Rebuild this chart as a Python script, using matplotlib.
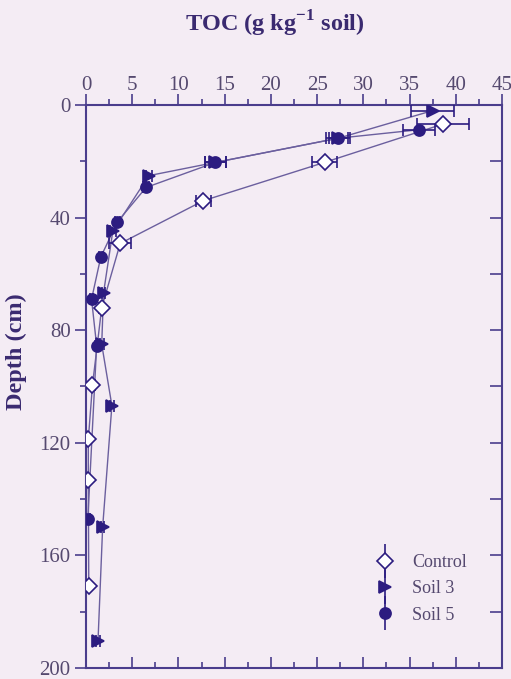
import matplotlib
matplotlib.use("Agg")
from matplotlib import pyplot as plt
from matplotlib.lines import Line2D
from matplotlib.legend_handler import HandlerTuple
from matplotlib.ticker import MultipleLocator

# TOC (g/kg soil) against depth (cm)
control_toc = [38.6, 25.8, 12.7, 3.7, 1.7, 0.7, 0.25, 0.25, 0.3]
control_depth = [6.8, 20.4, 34.0, 49.2, 72.0, 99.5, 118.8, 133.3, 171.0]
control_err = [2.8, 1.4, 0.8, 1.2, 0.3, 0.3, 0.2, 0.2, 0.2]

soil3_toc = [37.5, 27.3, 14.0, 6.8, 2.9, 1.9, 1.7, 2.8, 1.8, 1.3]
soil3_depth = [2.0, 11.8, 20.4, 25.1, 44.8, 66.7, 85.0, 106.8, 150.0, 190.3]
soil3_err = [2.3, 1.3, 1.1, 0.3, 0.3, 0.2, 0.2, 0.2, 0.2, 0.2]

soil5_toc = [36.0, 27.3, 14.0, 6.5, 3.4, 1.6, 0.6, 1.15, 0.2]
soil5_depth = [8.8, 11.8, 20.4, 29.3, 41.5, 54.0, 69.0, 85.5, 147.0]
soil5_err = [1.7, 1.0, 1.1, 0.3, 0.3, 0.2, 0.2, 0.2, 0.2]

labels = ["Control", "Soil 3", "Soil 5"]

bg = "#f4ecf4"
navy = "#2c1c80"
line_col = "#6b5f9e"
axis_col = "#4a3d8c"
text_col = "#55496f"

plt.rcParams["font.family"] = ["Liberation Serif", "DejaVu Serif"]

fig = plt.figure(figsize=(5.11, 6.79), dpi=100, facecolor=bg)
ax = fig.add_axes([0.1683, 0.0162, 0.8141, 0.8292])
ax.set_facecolor(bg)

series = [
    (control_toc, control_depth, control_err, "D", "white", 8.5),
    (soil3_toc, soil3_depth, soil3_err, ">", navy, 8.5),
    (soil5_toc, soil5_depth, soil5_err, "o", navy, 8),
]

handles = []
for toc, depth, err, marker, face, size in series:
    ax.plot(toc, depth, color=line_col, lw=1.0, zorder=2)
    ax.errorbar(toc, depth, xerr=err, fmt="none", ecolor=navy,
                elinewidth=1.2, capsize=4, capthick=1.2, zorder=3)
    ax.plot(toc, depth, ls="none", marker=marker, ms=size,
            mfc=face, mec=navy, mew=1.2, zorder=4)
    bar = Line2D([], [], ls="none", marker="|", ms=24, mew=1.2, color=navy)
    mk = Line2D([], [], ls="none", marker=marker, ms=size,
                mfc=face, mec=navy, mew=1.2)
    handles.append((bar, mk))

ax.set_xlim(0, 45)
ax.set_ylim(200, 0)

ax.xaxis.set_major_locator(MultipleLocator(5))
ax.xaxis.set_minor_locator(MultipleLocator(2.5))
ax.yaxis.set_major_locator(MultipleLocator(40))
ax.yaxis.set_minor_locator(MultipleLocator(20))

ax.tick_params(axis="x", which="both", top=True, bottom=True,
               labeltop=True, labelbottom=False, direction="in",
               colors=axis_col, labelcolor=text_col, labelsize=15)
ax.tick_params(axis="x", which="major", length=8, width=1.2, pad=7)
ax.tick_params(axis="x", which="minor", length=4, width=1.2)
# top ticks point outward
for t in ax.xaxis.get_major_ticks() + ax.xaxis.get_minor_ticks():
    t.tick2line.set_marker(matplotlib.lines.TICKUP)

ax.tick_params(axis="y", which="both", left=True, right=True,
               direction="out", colors=axis_col, labelcolor=text_col,
               labelsize=15, pad=3)
ax.tick_params(axis="y", which="major", length=8, width=1.2)
ax.tick_params(axis="y", which="minor", length=4, width=1.2)
for t in ax.yaxis.get_major_ticks() + ax.yaxis.get_minor_ticks():
    t.tick2line.set_marker(matplotlib.lines.TICKLEFT)
    t.tick2line.set_markersize(9)

for s in ax.spines.values():
    s.set_color(axis_col)
    s.set_linewidth(1.5)

fig.text(0.538, 0.965, "TOC (g kg$^{\\mathregular{-1}}$ soil)", ha="center",
         va="center", fontsize=17.5, fontweight="bold", color="#3a2a70")
fig.text(0.032, 1 - 352 / 679, "Depth (cm)", rotation=90, ha="center",
         va="center", fontsize=17.5, fontweight="bold", color="#3a2a70")

leg = ax.legend(handles, labels, handler_map={tuple: HandlerTuple(ndivide=1)},
                loc="lower left", bbox_to_anchor=(0.658, 0.05), frameon=False,
                fontsize=13, handlelength=1.0, handletextpad=1.0,
                labelspacing=0.52, labelcolor=text_col)

fig.savefig("out.png", dpi=100, facecolor=bg)
